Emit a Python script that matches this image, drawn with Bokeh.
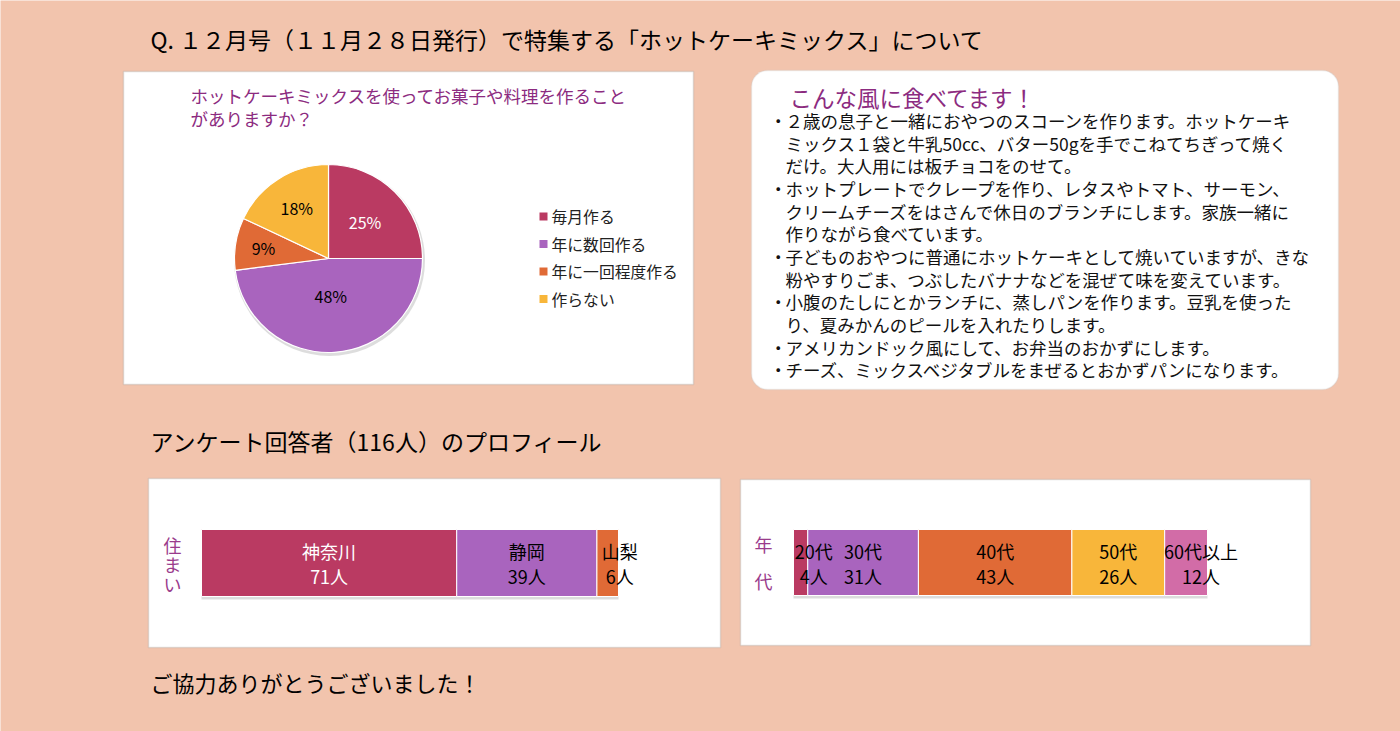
import math
from bokeh.plotting import figure
from bokeh.models import Range1d, ColumnDataSource, BoxAnnotation
from bokeh.core.properties import value
from bokeh.embed import file_html
from bokeh.resources import INLINE

# ---------------- data ----------------
main_title = "Q. １２月号（１１月２８日発行）で特集する「ホットケーキミックス」について"
pie_title_lines = ["ホットケーキミックスを使ってお菓子や料理を作ること", "がありますか？"]
pie_labels = ["毎月作る", "年に数回作る", "年に一回程度作る", "作らない"]
pie_values = [25, 48, 9, 18]

comment_title = "こんな風に食べてます！"
comment_lines = [
    "２歳の息子と一緒におやつのスコーンを作ります。ホットケーキ",
    "ミックス１袋と牛乳50cc、バター50gを手でこねてちぎって焼く",
    "だけ。大人用には板チョコをのせて。",
    "ホットプレートでクレープを作り、レタスやトマト、サーモン、",
    "クリームチーズをはさんで休日のブランチにします。家族一緒に",
    "作りながら食べています。",
    "子どものおやつに普通にホットケーキとして焼いていますが、きな",
    "粉やすりごま、つぶしたバナナなどを混ぜて味を変えています。",
    "小腹のたしにとかランチに、蒸しパンを作ります。豆乳を使った",
    "り、夏みかんのピールを入れたりします。",
    "アメリカンドック風にして、お弁当のおかずにします。",
    "チーズ、ミックスベジタブルをまぜるとおかずパンになります。",
]
comment_bullet = [True, False, False, True, False, False, True, False, True, False, True, True]

profile_title = "アンケート回答者（116人）のプロフィール"
res_axis_label = "住まい"
res_names = ["神奈川", "静岡", "山梨"]
res_counts = [71, 39, 6]
age_axis_label = "年代"
age_names = ["20代", "30代", "40代", "50代", "60代以上"]
age_counts = [4, 31, 43, 26, 12]
thanks = "ご協力ありがとうございました！"

# ---------------- style ----------------
BG = "#F2C4AD"
C_RED = "#BA3A62"
C_PUR = "#A964BE"
C_ORA = "#E06A36"
C_YEL = "#F8B63A"
C_PNK = "#D26CA7"
TITLE_PURPLE = "#8C2B80"
LABEL_PURPLE = "#9A3B8C"
FONT = "Noto Sans CJK JP"
pie_colors = [C_RED, C_PUR, C_ORA, C_YEL]
pie_text_colors = ["white", "black", "black", "black"]
pie_label_r = [0.55, 0.40, 0.70, 0.63]
res_colors = [C_RED, C_PUR, C_ORA]
res_text_colors = ["white", "black", "black"]
res_dx = [0, 0, 12]
age_colors = [C_RED, C_PUR, C_ORA, C_YEL, C_PNK]
age_dx = [13, 0, 0, 0, 15]

W, H = 1400, 731


def fy(py):
    return H - py


p = figure(width=W, height=H, x_range=Range1d(0, W), y_range=Range1d(0, H),
           output_backend="svg", toolbar_location=None, min_border=0,
           x_axis_type=None, y_axis_type=None)
p.grid.visible = False
p.outline_line_color = None
p.background_fill_color = BG
p.border_fill_color = BG


def txt(x, y, s, size, color="black", align="left", baseline="middle"):
    p.text(x=[x], y=[fy(y)], text=[s], text_font=value(FONT), text_font_size=f"{size}px",
           text_color=color, text_align=align, text_baseline=baseline)


# boxes
p.add_layout(BoxAnnotation(left=123, right=693, top=fy(71), bottom=fy(384), fill_color="white",
                           fill_alpha=1, line_color="#9C9C9C", line_width=1.5, level="underlay"))
p.add_layout(BoxAnnotation(left=751, right=1338, top=fy(70), bottom=fy(389), fill_color="white",
                           fill_alpha=1, line_color="#C9C9C9", line_width=1.5, border_radius=16,
                           level="underlay"))
p.add_layout(BoxAnnotation(left=148, right=720, top=fy(478), bottom=fy(647), fill_color="white",
                           fill_alpha=1, line_color="#A0A0A0", line_width=1.5, level="underlay"))
p.add_layout(BoxAnnotation(left=740, right=1310, top=fy(479), bottom=fy(645), fill_color="white",
                           fill_alpha=1, line_color="#A0A0A0", line_width=1.5, level="underlay"))

# headings
txt(150, 38, main_title, 23)
txt(150, 440, profile_title, 23)
txt(150, 681, thanks, 22)

# ---------------- pie ----------------
for i, line in enumerate(pie_title_lines):
    txt(190, 95 + 23 * i, line, 17.5, TITLE_PURPLE)

cx, cy, R = 328, 258, 94
total = sum(pie_values)
starts, ends, lx, ly = [], [], [], []
cum = 0
for v, rf in zip(pie_values, pie_label_r):
    a0 = math.pi / 2 - 2 * math.pi * cum / total
    cum += v
    a1 = math.pi / 2 - 2 * math.pi * cum / total
    starts.append(a0)
    ends.append(a1)
    am = (a0 + a1) / 2
    lx.append(cx + rf * R * math.cos(am))
    ly.append(fy(cy) + rf * R * math.sin(am))
pie_src = ColumnDataSource(dict(start=starts, end=ends, color=pie_colors, lx=lx, ly=ly,
                                pct=[f"{v}%" for v in pie_values], tc=pie_text_colors))
p.circle(x=[cx + 1], y=[fy(cy + 2)], radius=R + 1.5, radius_units="screen", fill_color="#BBBBBB",
         fill_alpha=0.5, line_color=None)
p.wedge(x=cx, y=fy(cy), radius=R, radius_units="screen", start_angle="start", end_angle="end",
        direction="clock", fill_color="color", line_color="white", line_width=1.2, source=pie_src)
p.text(x="lx", y="ly", text="pct", text_color="tc", text_font=value(FONT), text_font_size="16px",
       text_align="center", text_baseline="middle", source=pie_src)

leg_y = [fy(216 + 27.5 * i) for i in range(len(pie_labels))]
leg_src = ColumnDataSource(dict(y=leg_y, lab=pie_labels, color=pie_colors))
p.scatter(x=543, y="y", marker="square", size=8, fill_color="color", line_color=None, source=leg_src)
p.text(x=551, y="y", text="lab", text_font=value(FONT), text_font_size="15.8px", text_color="#222222",
       text_baseline="middle", source=leg_src)

# ---------------- comments ----------------
txt(789, 96, comment_title, 22.5, TITLE_PURPLE)
for i, (line, b) in enumerate(zip(comment_lines, comment_bullet)):
    yy = 120 + 22.65 * i
    if b:
        txt(769, yy, "・", 17.5, "#111111")
    txt(785, yy, line, 17.5, "#111111")


# ---------------- stacked bars ----------------
def bar_range(px0, px1, tot):
    k = (px1 - px0) / tot
    s = -px0 / k
    return Range1d(s, s + W / k)


p.extra_x_ranges = {"res": bar_range(201, 618, sum(res_counts)),
                    "age": bar_range(793, 1207, sum(age_counts))}


def stacked(names, counts, colors, tcolors, dx, rname, ycen, hgt):
    lefts, rights, mids = [], [], []
    c = 0
    for v in counts:
        lefts.append(c)
        c += v
        rights.append(c)
        mids.append((lefts[-1] + c) / 2)
    src = ColumnDataSource(dict(l=lefts, r=rights, m=mids, color=colors, tc=tcolors, dx=dx,
                                name=names, cnt=[f"{v}人" for v in counts]))
    p.hbar(y=fy(ycen + 3), left=0, right=c, height=hgt, x_range_name=rname,
           fill_color="#9A9A9A", fill_alpha=0.35, line_color=None)
    p.hbar(y=fy(ycen), left="l", right="r", height=hgt, fill_color="color", line_color="white",
           line_width=1, x_range_name=rname, source=src)
    p.text(x="m", y=fy(ycen - 12), text="name", text_color="tc", x_offset="dx", text_align="center",
           text_baseline="middle", text_font=value(FONT), text_font_size="18px",
           x_range_name=rname, source=src)
    p.text(x="m", y=fy(ycen + 13), text="cnt", text_color="tc", x_offset="dx", text_align="center",
           text_baseline="middle", text_font=value(FONT), text_font_size="18px",
           x_range_name=rname, source=src)


stacked(res_names, res_counts, res_colors, res_text_colors, res_dx, "res", 562.5, 67)
stacked(age_names, age_counts, age_colors, ["black"] * len(age_names), age_dx, "age", 562, 66)

for i, ch in enumerate(res_axis_label):
    txt(172, 544 + 19.5 * i, ch, 18, LABEL_PURPLE, align="center")
for i, ch in enumerate(age_axis_label):
    txt(763, 543 + 37 * i, ch, 18, LABEL_PURPLE, align="center")

html = file_html(p, INLINE)
open("out.html", "w").write(html)
